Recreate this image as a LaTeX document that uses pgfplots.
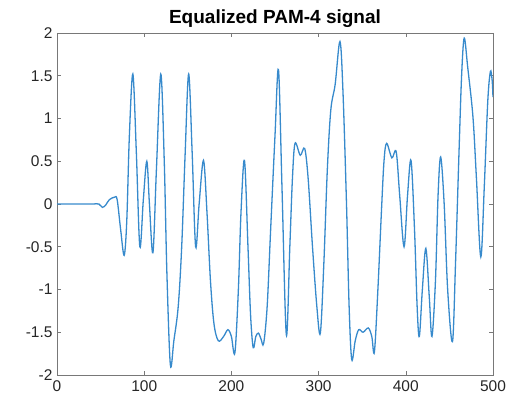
\documentclass[border=0pt]{standalone}
\usepackage{pgfplots}
\pgfplotsset{compat=1.18}
\usepackage{fontspec}
\setmainfont{Liberation Sans}
\definecolor{mblue}{RGB}{55,138,204}
\definecolor{mgray}{RGB}{120,120,120}
\definecolor{mtext}{RGB}{38,38,38}

\begin{document}
\begin{tikzpicture}
\begin{axis}[
  scale only axis,
  width=436bp, height=342bp,
  xmin=0, xmax=500, ymin=-2, ymax=2,
  xtick={0,100,...,500},
  ytick={-2,-1.5,...,2},
  yticklabels={-2,-1.5,-1,-0.5,0,0.5,1,1.5,2},
  tick align=inside,
  major tick length=4bp,
  axis line style={mgray, line width=0.6bp},
  every tick/.style={mgray, line width=0.6bp},
  tick label style={font=\fontsize{15.5bp}{17bp}\selectfont, text=mtext},
  /pgf/number format/assume math mode=true,
  xticklabel style={yshift=-2.5bp},
  yticklabel style={xshift=-1bp},
  title={\bfseries Equalized PAM-4 signal},
  title style={font=\fontsize{19bp}{21bp}\selectfont, yshift=-4bp},
]
\addplot[mblue, line width=1.3bp, smooth, tension=0.55] coordinates {
(0,0) (20,0) (40,0) (48,0) (52,-0.04) (56,-0.01) (60,0.05) (66,0.08) (69,0.05)
(73,-0.3) (77,-0.6) (80,-0.2) (83,0.8) (87,1.52) (91,0.6) (95,-0.5) (99,0.05)
(103,0.5) (106,0) (110,-0.57) (114,0.4) (119,1.52) (123,0.5) (126,-0.8)
(130,-1.88) (134,-1.6) (139,-1.2) (143,-0.5) (147,0.6) (151,1.52) (155,0.6)
(159,-0.5) (163,0) (168,0.51) (172,-0.1) (176,-0.9) (180,-1.4) (185,-1.6)
(191,-1.55) (196,-1.47) (200,-1.55) (204,-1.74) (208,-1.0) (211,-0.1)
(215,0.51) (219,-0.5) (222,-1.3) (225,-1.68) (228,-1.55) (231,-1.51)
(234,-1.58) (237,-1.63) (241,-1.2) (245,-0.3) (250,0.8) (254,1.57) (258,0.2)
(263,-1.53) (267,-0.5) (270,0.3) (273,0.71) (279,0.57) (284,0.65) (288,0.3)
(293,-0.5) (298,-1.2) (302,-1.51) (306,-0.7) (310,0.4) (314,1.1) (319,1.4)
(324.5,1.9) (328,1.3) (332,0) (335,-1.2) (338,-1.82) (342,-1.6) (346,-1.47)
(351,-1.5) (357,-1.45) (361,-1.55) (364,-1.73) (368,-1) (372,-0.1) (375,0.5)
(378,0.71) (384,0.54) (389,0.61) (393,0.1) (398,-0.5) (402,0.1) (406,0.51)
(410,-0.3) (413,-1.2) (415.5,-1.55) (419,-1.0) (423,-0.52) (427,-1.1)
(430,-1.55) (434,-0.9) (437,0.1) (440,0.55) (444,0) (448,-1.0) (453.5,-1.61)
(457,-0.7) (461,0.6) (464,1.5) (467,1.94) (471,1.6) (477,1.02) (481,0.3)
(486,-0.62) (490,0.2) (494,1.2) (497,1.55) (499,1.45) (500,1.25)
};
\end{axis}
\path (current axis.south west) ++(-57bp,-31bp) rectangle ++(517bp,406bp);
\end{tikzpicture}
\end{document}
